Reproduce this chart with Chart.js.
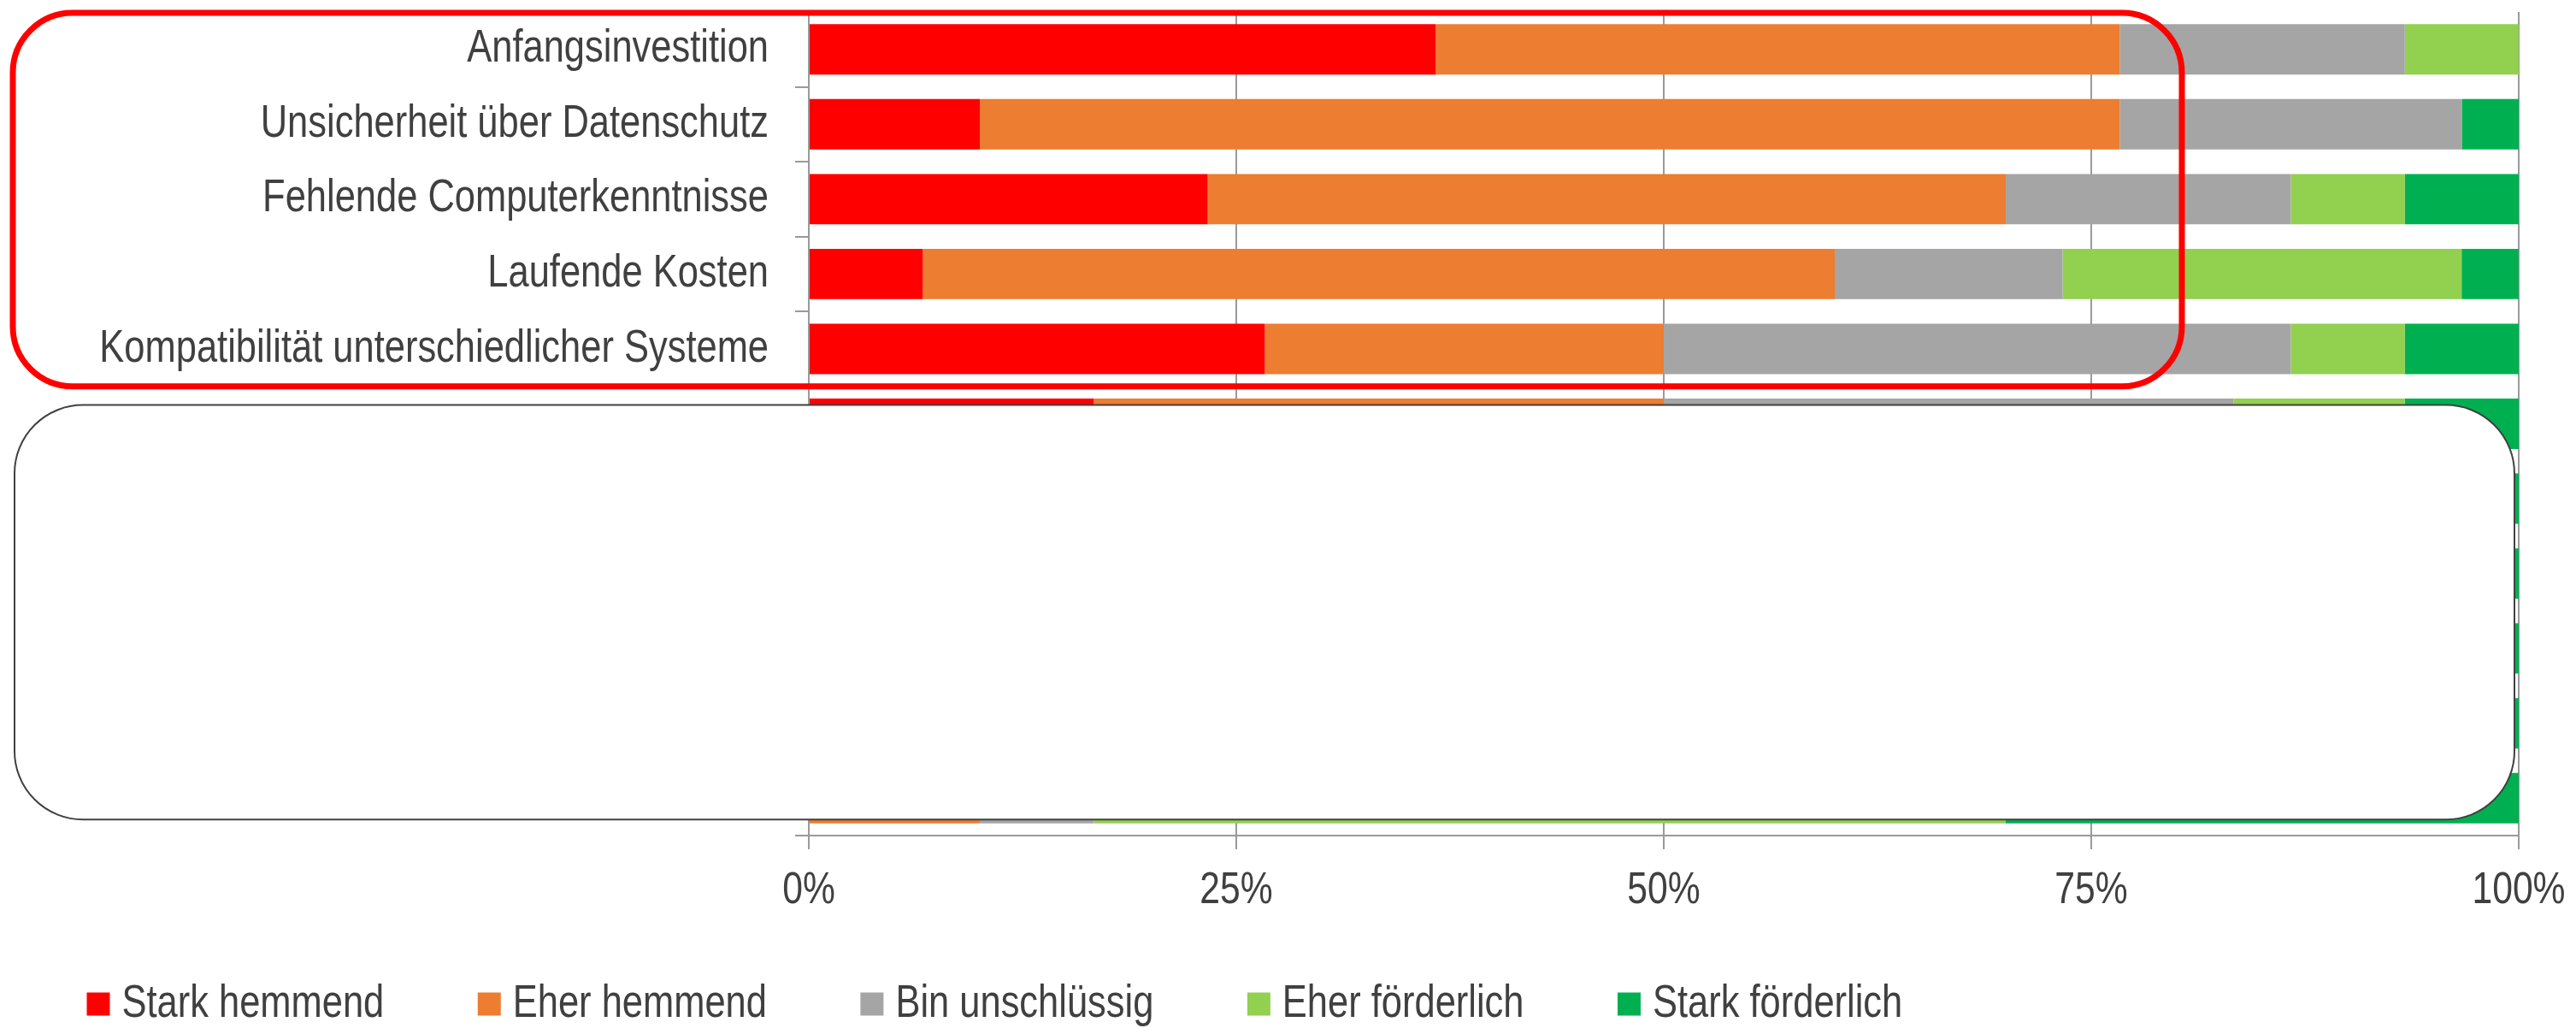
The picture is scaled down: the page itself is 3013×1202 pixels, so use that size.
<!DOCTYPE html>
<html><head><meta charset="utf-8">
<script src="https://cdn.jsdelivr.net/npm/chart.js@4.4.1/dist/chart.umd.min.js"></script>
<style>html,body{margin:0;padding:0;background:#fff;overflow:hidden}#wrap{width:3013px;height:1202px;position:relative}</style>
</head><body><div id="wrap"><canvas id="c"></canvas></div>
<script>
// Categories (rows 6-11 are covered by the white box in the original; their labels are not readable)
const categories = ['Anfangsinvestition','Unsicherheit über Datenschutz','Fehlende Computerkenntnisse','Laufende Kosten','Kompatibilität unterschiedlicher Systeme','','','','','',''];
const seriesNames = ['Stark hemmend','Eher hemmend','Bin unschlüssig','Eher förderlich','Stark förderlich'];
// Shares in %. Rows 7-10 are hidden; only their "Stark förderlich" end at 100% is visible.
const starkHemmend     = [36.67, 10.00, 23.33,  6.67, 26.67, 16.67, null, null, null, null,  0.00];
const eherHemmend      = [40.00, 66.67, 46.67, 53.33, 23.33, 33.33, null, null, null, null, 10.00];
const binUnschluessig  = [16.67, 20.00, 16.67, 13.33, 36.67, 33.33, null, null, null, null,  6.67];
const eherFoerderlich  = [ 6.67,  0.00,  6.67, 23.33,  6.67, 10.00, null, null, null, null, 53.33];
const starkFoerderlich = [ 0.00,  3.33,  6.67,  3.33,  6.67,  6.67, 100, 100, 100, 100, 30.00];
const xTickValues = [0, 25, 50, 75, 100];
const seriesColors = ['#FF0000','#ED7D31','#A5A5A5','#92D050','#00B050'];

const FAMILY = '"Liberation Sans", Arial, sans-serif';
const LABEL_SIZE = 53, TICK_SIZE = 52, LEG_SIZE = 53;
const SX = 0.82; // horizontal condensing of all text (narrow typeface look)
const TEXT = '#404040';
const GRID = '#9a9a9a';

const PLOT_LEFT = 946, PLOT_TOP = 14, PLOT_BOTTOM = 977, RIGHT_PAD = 67;
const LEG_CENTER = 1174;
const LEG_PAD = 122;
const LEG_HEIGHT = LEG_SIZE + LEG_PAD + 10;
const X_AXIS_HEIGHT = 1202 - LEG_HEIGHT - PLOT_BOTTOM;

const allSeries = [starkHemmend, eherHemmend, binUnschluessig, eherFoerderlich, starkFoerderlich];

const canvas = document.getElementById('c');
const c2d = canvas.getContext('2d');
const P = CanvasRenderingContext2D.prototype;
c2d.fillText = function(t, x, y){ this.save(); this.translate(x, y); this.scale(SX, 1); P.fillText.call(this, t, 0, 0); this.restore(); };
c2d.measureText = function(t){ const m = P.measureText.call(this, t);
  return {width: m.width*SX, actualBoundingBoxLeft: m.actualBoundingBoxLeft*SX, actualBoundingBoxRight: m.actualBoundingBoxRight*SX,
    actualBoundingBoxAscent: m.actualBoundingBoxAscent, actualBoundingBoxDescent: m.actualBoundingBoxDescent,
    fontBoundingBoxAscent: m.fontBoundingBoxAscent, fontBoundingBoxDescent: m.fontBoundingBoxDescent}; };

function rr(ctx,x1,y1,x2,y2,r){
  ctx.beginPath();
  ctx.moveTo(x1+r,y1); ctx.lineTo(x2-r,y1); ctx.arcTo(x2,y1,x2,y1+r,r);
  ctx.lineTo(x2,y2-r); ctx.arcTo(x2,y2,x2-r,y2,r);
  ctx.lineTo(x1+r,y2); ctx.arcTo(x1,y2,x1,y2-r,r);
  ctx.lineTo(x1,y1+r); ctx.arcTo(x1,y1,x1+r,y1,r); ctx.closePath();
}

const overlay = {
  id:'overlay',
  afterLayout(chart){
    const lg = chart.legend;
    if (lg) {
      const dy = (LEG_CENTER - LEG_SIZE/2 - LEG_PAD) - lg.top, dx = -8;
      lg.top += dy; lg.bottom += dy; lg.left += dx; lg.right += dx;
    }
    // let the x tick labels extend below the (small) axis box so they are not clipped
    const xs = chart.scales.x; xs.bottom = xs.top + 110; xs.height = 110;
  },
  afterDraw(chart){
    const {ctx} = chart; const x = chart.scales.x, y = chart.scales.y;
    const band = y.getPixelForValue(1) - y.getPixelForValue(0);
    ctx.save();
    // white cover box over the lower rows
    rr(ctx, 17, y.getPixelForValue(5) - band*0.25, x.getPixelForValue(100) - 5, y.getPixelForValue(10) + band*0.285, 80);
    ctx.fillStyle = '#ffffff'; ctx.fill();
    ctx.lineWidth = 2; ctx.strokeStyle = '#404040'; ctx.stroke();
    // red highlight frame around the first five rows
    rr(ctx, 15, chart.chartArea.top + 1, x.getPixelForValue(80.3), (y.getPixelForValue(4) + y.getPixelForValue(5))/2, 70);
    ctx.lineWidth = 7; ctx.strokeStyle = '#FF0000'; ctx.stroke();
    ctx.restore();
  }
};

new Chart(canvas, {
  type:'bar',
  data:{
    labels: categories,
    datasets: seriesNames.map((n,i)=>({label:n, data:allSeries[i], backgroundColor:seriesColors[i], borderWidth:0, barPercentage:0.673, categoryPercentage:1, pointStyle:'rect'}))
  },
  options:{
    indexAxis:'y', responsive:true, maintainAspectRatio:false, animation:false, devicePixelRatio:1,
    layout:{padding:{left:0, right:RIGHT_PAD, top:PLOT_TOP, bottom:0}},
    plugins:{
      tooltip:{enabled:false},
      legend:{position:'bottom', align:'start',
        labels:{usePointStyle:true, boxWidth:2, boxHeight:27, padding:LEG_PAD, color:TEXT, font:{family:FAMILY, size:LEG_SIZE}}}
    },
    scales:{
      x:{stacked:true, min:0, max:100,
        afterBuildTicks(s){ s.ticks = xTickValues.map(v=>({value:v})); },
        afterFit(s){ s.paddingLeft = 0; s.paddingRight = 0; s.height = X_AXIS_HEIGHT; },
        ticks:{callback:v=>v+'%', color:TEXT, font:{family:FAMILY, size:TICK_SIZE}, padding:17, maxRotation:0},
        grid:{color:GRID, lineWidth:2, tickLength:16, drawTicks:true},
        border:{color:GRID, width:2}
      },
      y:{stacked:true,
        afterFit(s){ s.width = PLOT_LEFT; s.paddingTop = 0; s.paddingBottom = 0; },
        ticks:{autoSkip:false, color:TEXT, font:{family:FAMILY, size:LABEL_SIZE}, padding:31},
        grid:{offset:true, drawOnChartArea:false, drawTicks:true, tickLength:16, color:GRID, lineWidth:2},
        border:{color:GRID, width:2}
      }
    }
  },
  plugins:[overlay]
});
</script></body></html>
